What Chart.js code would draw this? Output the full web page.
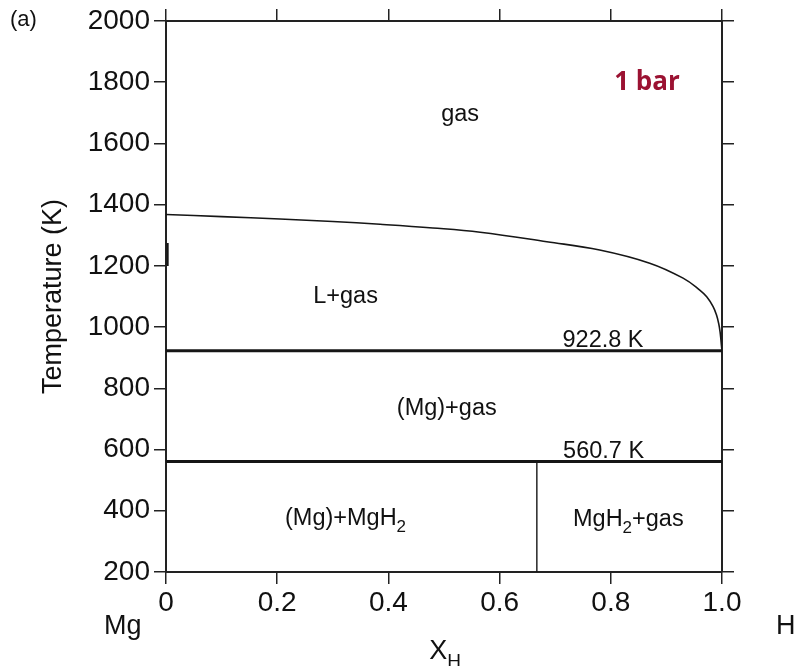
<!DOCTYPE html>
<html>
<head>
<meta charset="utf-8">
<script src="https://cdn.jsdelivr.net/npm/chart.js@4.4.0/dist/chart.umd.min.js"></script>
<style>
  body { margin: 0; background: #fff; }
</style>
</head>
<body>
<canvas id="phase" width="795" height="666"></canvas>
<script>
// Mg-H phase diagram at 1 bar

// liquidus: L+gas / gas boundary
const liquidusX = [0, 0.1, 0.205, 0.3, 0.385, 0.48, 0.565, 0.685, 0.78, 0.87, 0.93, 0.96, 0.9725, 0.984, 0.99, 0.994, 0.9965, 0.998, 0.999, 1.0];
const liquidusT = [1368, 1361, 1353, 1345, 1336, 1324, 1310, 1279, 1252, 1209, 1160, 1121, 1099, 1067, 1040, 1012, 985, 960, 940, 922.8];

// invariant lines
const meltT = 922.8;
const decompT = 560.7;
const mgh2X = 0.667;

// short mark on the Mg side
const edgeMarkT = [1275, 1200];

const xTicks = [0, 0.2, 0.4, 0.6, 0.8, 1.0];
const tMin = 200, tMax = 2000, tStep = 200;

const FONT = "'Liberation Sans', Arial, Helvetica, sans-serif";
const INK = "#111";

// phase field labels (parts with sub:true are subscripts)
const fieldLabels = [
  { parts: [{ t: "gas" }], x: 0.529, T: 1673, align: "center" },
  { parts: [{ t: "L+gas" }], x: 0.323, T: 1079, align: "center" },
  { parts: [{ t: "922.8 K" }], x: 0.786, T: 935, align: "center" },
  { parts: [{ t: "(Mg)+gas" }], x: 0.505, T: 713, align: "center" },
  { parts: [{ t: "560.7 K" }], x: 0.787, T: 572, align: "center" },
  { parts: [{ t: "(Mg)+MgH" }, { t: "2", sub: true }], x: 0.214, T: 353, align: "left" },
  { parts: [{ t: "MgH" }, { t: "2", sub: true }, { t: "+gas" }], x: 0.732, T: 350, align: "left" },
];

function drawParts(ctx, parts, x, y, size, align) {
  const subSize = Math.round(size * 0.72);
  let w = 0;
  parts.forEach(p => {
    ctx.font = (p.sub ? subSize : size) + "px " + FONT;
    w += ctx.measureText(p.t).width;
  });
  let cx = align === "center" ? x - w / 2 : x;
  ctx.textAlign = "left";
  ctx.textBaseline = "alphabetic";
  parts.forEach(p => {
    ctx.font = (p.sub ? subSize : size) + "px " + FONT;
    ctx.fillText(p.t, cx, p.sub ? y + size * 0.28 : y);
    cx += ctx.measureText(p.t).width;
  });
}

const labelPlugin = {
  id: "phaseLabels",
  afterDatasetsDraw(chart) {
    const ctx = chart.ctx;
    const xs = chart.scales.x, ys = chart.scales.y;
    const area = chart.chartArea;
    ctx.save();
    ctx.fillStyle = INK;
    fieldLabels.forEach(l => {
      drawParts(ctx, l.parts, xs.getPixelForValue(l.x), ys.getPixelForValue(l.T), 23.5, l.align);
    });

    // pressure tag
    ctx.fillStyle = "#9b1232";
    ctx.font = "bold 26px 'Open Sans', 'Noto Sans', sans-serif";
    ctx.textAlign = "center";
    ctx.fillText("1 bar", xs.getPixelForValue(0.865), ys.getPixelForValue(1775));

    // panel letter, end members and composition axis title
    ctx.fillStyle = INK;
    ctx.textAlign = "left";
    ctx.font = "22px " + FONT;
    ctx.fillText("(a)", 10, area.top + 5);
    ctx.font = "27px " + FONT;
    ctx.fillText("Mg", area.left - 62, area.bottom + 62);
    ctx.fillText("H", area.right + 54, area.bottom + 62);
    drawParts(ctx, [{ t: "X" }, { t: "H", sub: true }], (area.left + area.right) / 2 + 1, area.bottom + 87, 27, "center");
    ctx.restore();
  }
};

const line = (data, width) => ({
  data,
  showLine: true,
  borderColor: "#161616",
  borderWidth: width,
  pointRadius: 0,
  fill: false,
});

const liquidus = liquidusX.map((x, i) => ({ x, y: liquidusT[i] }));

const datasets = [
  Object.assign(line(liquidus, 1.6), { tension: 0.4 }),
  line([{ x: 0, y: meltT }, { x: 1, y: meltT }], 3),
  line([{ x: 0, y: decompT }, { x: 1, y: decompT }], 3),
  line([{ x: mgh2X, y: tMin }, { x: mgh2X, y: decompT }], 1.4),
  line([{ x: 0.003, y: edgeMarkT[0] }, { x: 0.003, y: edgeMarkT[1] }], 2),
];

const gridOpts = {
  drawOnChartArea: false,
  drawTicks: true,
  tickLength: 12,
  color: "#222",
  lineWidth: 1.5,
};
const borderOpts = { color: "#222", width: 2 };

new Chart(document.getElementById("phase"), {
  type: "scatter",
  data: { datasets },
  options: {
    responsive: false,
    animation: false,
    devicePixelRatio: 1,
    layout: { padding: 0 },
    plugins: { legend: { display: false }, tooltip: { enabled: false } },
    scales: {
      x: {
        type: "linear",
        position: "bottom",
        min: 0, max: 1,
        afterBuildTicks: s => { s.ticks = xTicks.map(v => ({ value: v })); },
        ticks: {
          color: INK,
          padding: 2,
          maxRotation: 0,
          font: { family: FONT, size: 28 },
          callback: v => (v === 0 ? "0" : v.toFixed(1)),
        },
        grid: gridOpts,
        border: borderOpts,
        afterFit: s => { s.height = 94; },
      },
      xTop: {
        type: "linear",
        position: "top",
        min: 0, max: 1,
        afterBuildTicks: s => { s.ticks = xTicks.map(v => ({ value: v })); },
        ticks: { display: false },
        grid: gridOpts,
        border: borderOpts,
        afterFit: s => { s.height = 21; },
      },
      y: {
        type: "linear",
        position: "left",
        min: tMin, max: tMax,
        ticks: {
          stepSize: tStep,
          color: INK,
          padding: 4,
          font: { family: FONT, size: 28 },
          callback: v => String(v),
        },
        title: {
          display: true,
          text: "Temperature (K)",
          color: INK,
          font: { family: FONT, size: 27 },
          padding: { top: 37, bottom: 0 },
        },
        grid: gridOpts,
        border: borderOpts,
        afterFit: s => { s.width = 166; },
      },
      yRight: {
        type: "linear",
        position: "right",
        min: tMin, max: tMax,
        ticks: { display: false, stepSize: tStep },
        grid: gridOpts,
        border: borderOpts,
        afterFit: s => { s.width = 73; },
      },
    },
  },
  plugins: [labelPlugin],
});
</script>
</body>
</html>
